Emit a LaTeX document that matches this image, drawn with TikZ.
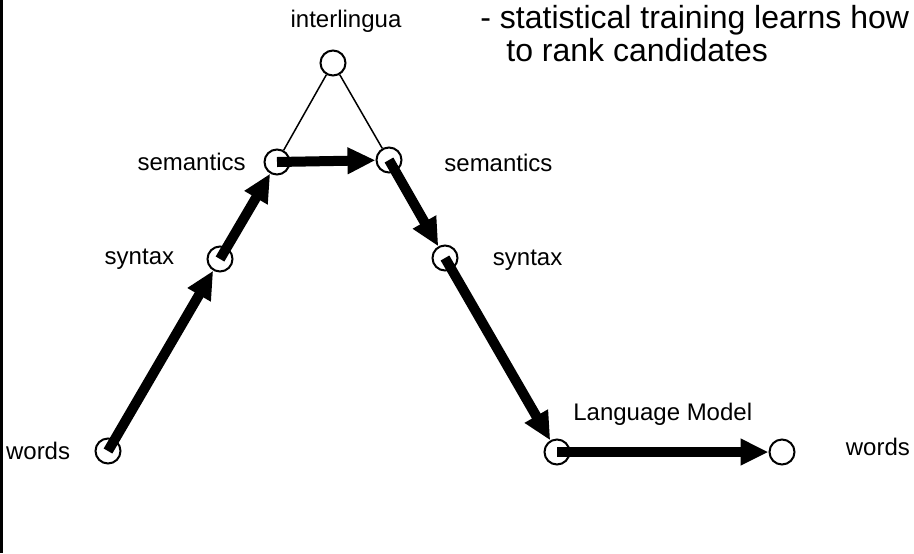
\documentclass[tikz,border=0pt]{standalone}
\usepackage{fontspec}
\setmainfont{Liberation Sans}
\usetikzlibrary{positioning,arrows.meta}

\begin{document}
\begin{tikzpicture}[
    x=0.5pt,
    y=-0.5pt,
    state/.style={
        draw,
        circle,
        line width=1pt,
        minimum size=12.5pt,
        inner sep=0pt
    },
    tag/.style={
        inner sep=0pt,
        font=\fontsize{12}{14}\selectfont
    },
    note/.style={
        inner sep=0pt,
        anchor=base west,
        font=\fontsize{16}{18}\selectfont
    },
    arrow/.style={
        -{Triangle[length=14pt,width=12.5pt]},
        line width=5pt
    },
    link/.style={
        line width=0.75pt
    }
]

\useasboundingbox (0,0) rectangle (914,553);

% scanned edge
\fill (0,0) rectangle (3,553);

\node[state] (inter) at (333,63) {};

\node[state] (semL) at (277,162) {};

\node[state] (semR) at (389,160) {};

\node[state] (synL) at (220,259) {};

\node[state] (synR) at (445,258) {};

\node[state] (wordsL) at (108,451) {};

\node[state] (lm) at (557,452) {};

\node[state] (wordsR) at (782,452) {};

\node[tag, above=8.5pt of inter, xshift=6.5pt] (interlabel) {interlingua};

\node[tag, left=8.75pt of semL] (semLlabel) {semantics};

\node[tag, right=20.75pt of semR, yshift=-1.5pt] (semRlabel) {semantics};

\node[tag, left=16pt of synL] (synLlabel) {syntax};

\node[tag, right=17pt of synR, yshift=-1pt] (synRlabel) {syntax};

\node[tag, left=12pt of wordsL] (wordsLlabel) {words};

\node[tag, right=25pt of wordsR, yshift=2.5pt] (wordsRlabel) {words};

\node[note] (note1) at (480,28) {- statistical training learns how};

\node[note] (note2) at (506,61) {to rank candidates};

\draw[link] (inter) -- (semL);

\draw[link] (inter) -- (semR);

\draw[arrow] (wordsL.center) -- (synL);

\draw[arrow] (synL.center) -- (semL);

\draw[arrow] (semL.center) -- (semR);

\draw[arrow] (semR.center) -- (synR);

\draw[arrow] (synR.center) -- (lm);

\draw[arrow] (lm.center) -- (wordsR)
    node[tag, midway, above=11pt] (lmlabel) {Language Model};

\end{tikzpicture}
\end{document}
